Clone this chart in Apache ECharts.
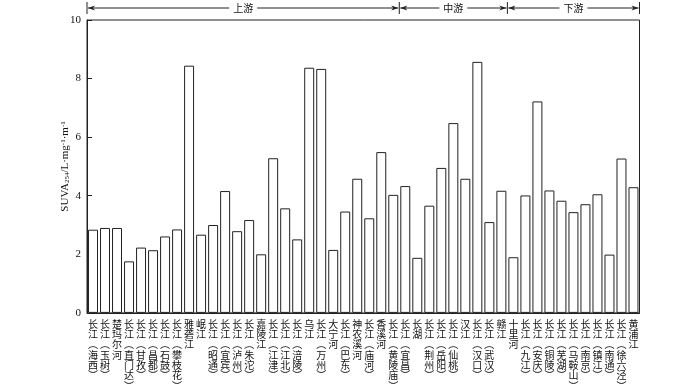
<!DOCTYPE html>
<html>
<head>
<meta charset="utf-8">
<script src="https://cdn.jsdelivr.net/npm/echarts@6/dist/echarts.min.js"></script>
<style>html,body{margin:0;padding:0;background:#fff}#c{width:700px;height:391px}</style>
</head>
<body>
<div id="c"></div>
<script>
var categories = ['长江（海西）','长江（玉树）','楚玛尔河','长江（直门达）','长江（甘孜）','长江（昌都）','长江（石鼓）','长江（攀枝花）','雅砻江','岷江','长江（昭通）','长江（宜宾）','长江（泸州）','长江（朱沱）','嘉陵江','长江（江津）','长江（江北）','长江（涪陵）','乌江','长江（万州）','大宁河','长江（巴东）','神农溪河','长江（庙河）','香溪河','长江（黄陵庙）','长江（宜昌）','长湖','长江（荆州）','长江（岳阳）','长江（仙桃）','汉江','长江（汉口）','长江（武汉）','赣江','十里河','长江（九江）','长江（安庆）','长江（铜陵）','长江（芜湖）','长江（马鞍山）','长江（南京）','长江（镇江）','长江（南通）','长江（徐六泾）','黄浦江'];
var suva = [2.84,2.9,2.9,1.76,2.23,2.14,2.61,2.85,8.44,2.67,3.0,4.16,2.79,3.17,2.0,5.28,3.57,2.51,8.37,8.33,2.15,3.46,4.58,3.23,5.49,4.03,4.33,1.88,3.66,4.95,6.48,4.58,8.57,3.1,4.17,1.9,4.01,7.22,4.18,3.83,3.44,3.71,4.05,1.99,5.27,4.29];
var yTicks = [0, 2, 4, 6, 8, 10];
var regionNames = ['上游', '中游', '下游'];
var regionStart = [0, 26, 35]; // index of first category in each region

var chart = echarts.init(document.getElementById('c'));
var FONT = "'Liberation Serif', 'Noto Sans CJK SC', serif";
var option = {
  animation: false,
  textStyle: { fontFamily: FONT },
  grid: { left: 87, right: 60.5, top: 20, bottom: 75.5, show: true, borderColor: '#222', borderWidth: 1, backgroundColor: 'transparent' },
  xAxis: {
    type: 'category',
    data: categories,
    axisLine: { show: true, lineStyle: { color: '#222', width: 1 } },
    axisTick: { show: false },
    axisLabel: {
      interval: 0,
      margin: 6,
      fontSize: 10,
      lineHeight: 10.3,
      color: '#111',
      verticalAlign: 'top',
      fontFamily: "'Noto Sans CJK SC', serif",
      formatter: function (v) {
        return v.replace(/（/g, '︵').replace(/）/g, '︶').split('').join('\n');
      }
    }
  },
  yAxis: {
    type: 'value',
    min: yTicks[0], max: yTicks[yTicks.length - 1], interval: 2,
    name: 'SUVA{sub|254}/L·mg{sup|-1}·m{sup|-1}',
    nameLocation: 'middle',
    nameGap: 16,
    nameMoveOverlap: false,
    nameRotate: 90,
    nameTextStyle: {
      fontSize: 11, color: '#111', fontFamily: FONT,
      rich: {
        sub: { fontSize: 7, verticalAlign: 'bottom', fontFamily: FONT, color: '#111', padding: [4, 0, 0, 0] },
        sup: { fontSize: 7, verticalAlign: 'top', fontFamily: FONT, color: '#111', padding: [0, 0, 4, 0] }
      }
    },
    axisLine: { show: true, lineStyle: { color: '#222', width: 1 } },
    axisTick: { show: true, inside: true, length: 5, lineStyle: { color: '#222' } },
    axisLabel: { fontSize: 11, color: '#111', margin: 6, fontFamily: FONT },
    splitLine: { show: false }
  },
  series: [{
    type: 'bar',
    data: suva,
    barCategoryGap: '17%',
    itemStyle: { color: '#fff', borderColor: '#222', borderWidth: 1 }
  }]
};
chart.setOption(option);

// top region annotation with arrows
(function () {
  var c0 = chart.convertToPixel({ xAxisIndex: 0 }, 0);
  var c1 = chart.convertToPixel({ xAxisIndex: 0 }, 1);
  var slot = c1 - c0;
  var bounds = regionStart.map(function (i) { return c0 + (i - 0.5) * slot; });
  bounds.push(c0 + (categories.length - 0.5) * slot);
  var y = 8;
  var els = [];
  var stroke = { stroke: '#222', lineWidth: 1 };
  bounds.forEach(function (bx) {
    els.push({ type: 'line', shape: { x1: bx, y1: 2, x2: bx, y2: 14 }, style: stroke });
  });
  for (var k = 0; k < regionNames.length; k++) {
    var x1 = bounds[k] + 1, x2 = bounds[k + 1] - 1;
    var mid = (x1 + x2) / 2;
    var half = 14;
    els.push({ type: 'line', shape: { x1: x1, y1: y, x2: mid - half, y2: y }, style: stroke });
    els.push({ type: 'line', shape: { x1: mid + half, y1: y, x2: x2, y2: y }, style: stroke });
    els.push({ type: 'polygon', shape: { points: [[x1, y], [x1 + 7, y - 2.5], [x1 + 5, y], [x1 + 7, y + 2.5]] }, style: { fill: '#222' } });
    els.push({ type: 'polygon', shape: { points: [[x2, y], [x2 - 7, y - 2.5], [x2 - 5, y], [x2 - 7, y + 2.5]] }, style: { fill: '#222' } });
    els.push({ type: 'text', x: mid, y: y, style: { text: regionNames[k], fontSize: 10, fontFamily: "'Noto Sans CJK SC', serif", fill: '#111', align: 'center', verticalAlign: 'middle' } });
  }
  chart.setOption({ graphic: { elements: els } });
})();
</script>
</body>
</html>
